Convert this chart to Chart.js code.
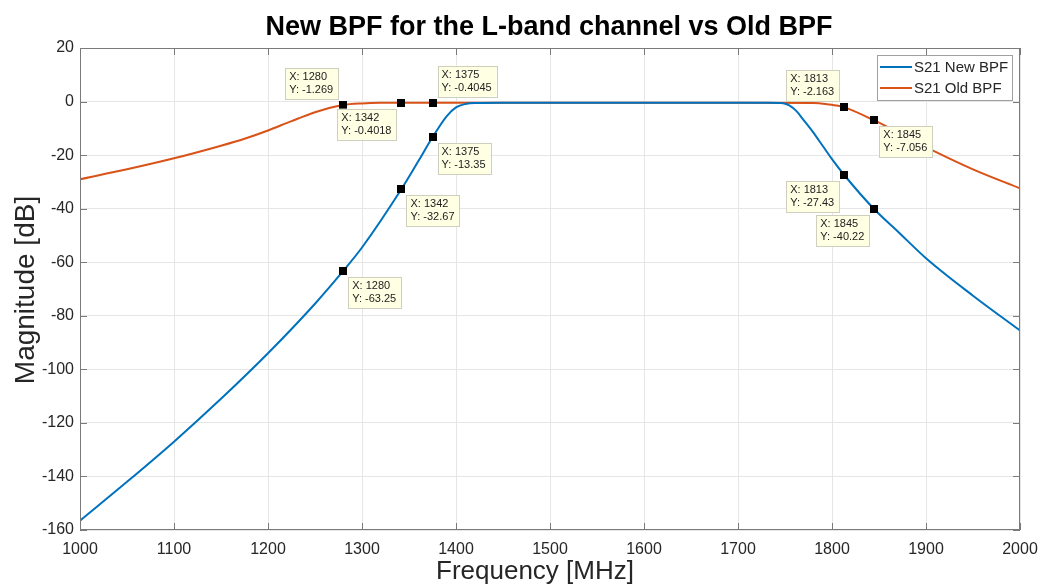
<!DOCTYPE html>
<html>
<head>
<meta charset="utf-8">
<script src="https://cdn.jsdelivr.net/npm/chart.js@4"></script>
<style>
html, body { margin: 0; padding: 0; background: #fff; }
</style>
</head>
<body>
<canvas id="chart" width="1040" height="585"></canvas>
<script>
// S21 of the new filter
const newFreq = [1000, 1050, 1100, 1150, 1200, 1250, 1280, 1300, 1342, 1360, 1375, 1390, 1400, 1410, 1420, 1450, 1500, 1600, 1700, 1730, 1748, 1755, 1762, 1770, 1780, 1790, 1800, 1813, 1845, 1870, 1900, 1950, 2000];
const newMag = [-156.5, -142, -127, -111, -94, -75.5, -63.25, -54.5, -32.67, -22.2, -13.35, -5.5, -2.2, -0.9, -0.5, -0.4, -0.4, -0.4, -0.4, -0.45, -0.6, -1.5, -3.5, -7, -11.5, -16.5, -21.5, -27.43, -40.22, -48.5, -58.5, -72.5, -85.5];

// S21 of the old filter
const oldFreq = [1000, 1050, 1100, 1150, 1175, 1200, 1225, 1250, 1265, 1280, 1300, 1320, 1342, 1375, 1500, 1600, 1700, 1780, 1795, 1813, 1845, 1870, 1900, 1950, 2000];
const oldMag = [-29, -25.3, -21.2, -16.5, -13.9, -10.8, -7.3, -4, -2.4, -1.269, -0.7, -0.45, -0.4018, -0.4045, -0.4, -0.4, -0.4, -0.5, -1.0, -2.163, -7.056, -11.5, -17, -25.3, -32.4];

// data tips (series 0 = new, 1 = old)
const tipSeries = [1, 1, 1, 0, 0, 0, 1, 1, 0, 0];
const tipFreq = [1280, 1342, 1375, 1375, 1342, 1280, 1813, 1845, 1813, 1845];
const tipMag = [-1.269, -0.4018, -0.4045, -13.35, -32.67, -63.25, -2.163, -7.056, -27.43, -40.22];
const tipSide = ['ul', 'll', 'ur', 'lr', 'lr', 'lr', 'ul', 'lr', 'll', 'll'];

const xTicks = [1000, 1100, 1200, 1300, 1400, 1500, 1600, 1700, 1800, 1900, 2000];
const yTicks = [20, 0, -20, -40, -60, -80, -100, -120, -140, -160];

const FONT = '"Liberation Sans", Arial, Helvetica, sans-serif';
const BLUE = '#0072BD';
const ORANGE = '#D95319';

function pts(xs, ys) {
    return xs.map((x, i) => ({ x: x, y: ys[i] }));
}

function drawTip(ctx, mx, my, lines, side) {
    ctx.font = '11px ' + FONT;
    const w = Math.max(...lines.map(t => ctx.measureText(t).width)) + 9;
    const h = 31;
    const bx = side[1] === 'r' ? mx + 5 : mx - 5 - w;
    const by = side[0] === 'l' ? my + 6 : my - 6 - h;
    ctx.fillStyle = '#ffffe3';
    ctx.fillRect(bx, by, w, h);
    ctx.strokeStyle = '#cfcfbd';
    ctx.lineWidth = 1;
    ctx.strokeRect(Math.round(bx) + 0.5, Math.round(by) + 0.5, Math.round(w), h);
    ctx.fillStyle = '#222';
    ctx.textAlign = 'left';
    ctx.textBaseline = 'middle';
    ctx.fillText(lines[0], bx + 4, by + 9);
    ctx.fillText(lines[1], bx + 4, by + 22);
}

const decor = {
    id: 'decor',
    afterDraw(chart) {
        const ctx = chart.ctx;
        const a = chart.chartArea;
        const xs = chart.scales.x, ys = chart.scales.y;
        ctx.save();

        // axes box with inward ticks
        ctx.strokeStyle = '#7a7a7a';
        ctx.lineWidth = 1;
        ctx.strokeRect(a.left + 0.5, a.top + 0.5, a.right - a.left - 1, a.bottom - a.top - 1);
        ctx.beginPath();
        xTicks.forEach(v => {
            const p = Math.round(xs.getPixelForValue(v)) + 0.5;
            ctx.moveTo(p, a.bottom); ctx.lineTo(p, a.bottom - 7);
            ctx.moveTo(p, a.top); ctx.lineTo(p, a.top + 7);
        });
        yTicks.forEach(v => {
            const p = Math.round(ys.getPixelForValue(v)) + 0.5;
            ctx.moveTo(a.left, p); ctx.lineTo(a.left + 7, p);
            ctx.moveTo(a.right, p); ctx.lineTo(a.right - 7, p);
        });
        ctx.stroke();

        // title and axis labels
        ctx.fillStyle = '#000';
        ctx.textAlign = 'center';
        ctx.textBaseline = 'middle';
        ctx.font = 'bold 27px ' + FONT;
        ctx.fillText('New BPF for the L-band channel vs Old BPF', 549, 28);
        ctx.fillStyle = '#262626';
        ctx.font = '26px ' + FONT;
        ctx.fillText('Frequency [MHz]', 535, 572);
        ctx.save();
        ctx.translate(26, 290);
        ctx.rotate(-Math.PI / 2);
        ctx.font = '28px ' + FONT;
        ctx.fillText('Magnitude [dB]', 0, 0);
        ctx.restore();

        // legend
        const lx = 877, ly = 55, lw = 135, lh = 45;
        ctx.fillStyle = '#fff';
        ctx.fillRect(lx, ly, lw, lh);
        ctx.strokeStyle = '#a0a0a0';
        ctx.lineWidth = 1;
        ctx.strokeRect(lx + 0.5, ly + 0.5, lw, lh);
        ctx.font = '15px ' + FONT;
        ctx.textAlign = 'left';
        chart.data.datasets.forEach((ds, i) => {
            const yy = ly + 12 + i * 21;
            ctx.strokeStyle = ds.borderColor;
            ctx.lineWidth = 2;
            ctx.beginPath();
            ctx.moveTo(lx + 3, yy); ctx.lineTo(lx + 35, yy);
            ctx.stroke();
            ctx.fillStyle = '#262626';
            ctx.fillText(ds.label, lx + 37, yy + 1);
        });

        // data tips
        tipFreq.forEach((f, i) => {
            const mx = xs.getPixelForValue(f);
            const my = ys.getPixelForValue(tipMag[i]);
            ctx.fillStyle = '#000';
            ctx.fillRect(Math.round(mx) - 4, Math.round(my) - 4, 8, 8);
            drawTip(ctx, mx, my, ['X: ' + f, 'Y: ' + tipMag[i]], tipSide[i]);
        });
        ctx.restore();
    }
};

new Chart(document.getElementById('chart'), {
    type: 'line',
    data: {
        datasets: [{
            label: 'S21 New BPF',
            data: pts(newFreq, newMag),
            borderColor: BLUE,
            borderWidth: 2,
            pointRadius: 0,
            cubicInterpolationMode: 'monotone',
            fill: false
        }, {
            label: 'S21 Old BPF',
            data: pts(oldFreq, oldMag),
            borderColor: ORANGE,
            borderWidth: 2,
            pointRadius: 0,
            cubicInterpolationMode: 'monotone',
            fill: false
        }]
    },
    options: {
        responsive: false,
        animation: false,
        devicePixelRatio: 1,
        layout: { padding: { top: 48, right: 20, left: 0, bottom: 0 } },
        plugins: {
            legend: { display: false },
            tooltip: { enabled: false }
        },
        scales: {
            x: {
                type: 'linear',
                min: 1000,
                max: 2000,
                afterFit: s => { s.height = 55; s.paddingLeft = 0; s.paddingRight = 0; },
                afterBuildTicks: s => { s.ticks = xTicks.map(v => ({ value: v })); },
                ticks: { font: { size: 16, family: FONT }, color: '#262626', padding: 10, maxRotation: 0, callback: v => String(v) },
                grid: { color: '#e6e6e6', drawTicks: false },
                border: { display: false }
            },
            y: {
                min: -160,
                max: 20,
                afterFit: s => { s.width = 80; s.paddingTop = 0; s.paddingBottom = 0; },
                afterBuildTicks: s => { s.ticks = yTicks.map(v => ({ value: v })); },
                ticks: { font: { size: 16, family: FONT }, color: '#262626', padding: 6, callback: v => String(v) },
                grid: { color: '#e6e6e6', drawTicks: false },
                border: { display: false }
            }
        }
    },
    plugins: [decor]
});
</script>
</body>
</html>
